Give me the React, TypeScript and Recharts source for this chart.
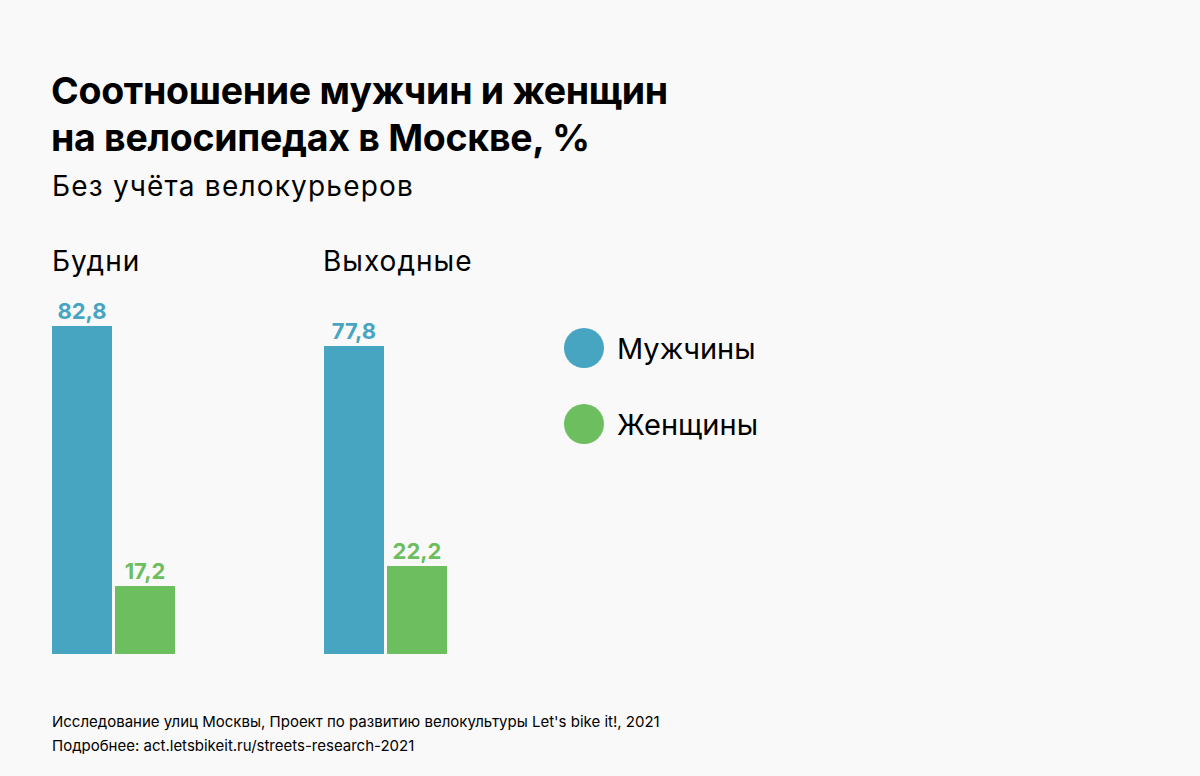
import React from 'react';
import { BarChart, Bar, XAxis, YAxis, LabelList } from 'recharts';

const categories = ['Будни', 'Выходные'];
const men = [82.8, 77.8];
const women = [17.2, 22.2];
const seriesNames = ['Мужчины', 'Женщины'];

const BLUE = '#47a5c2';
const GREEN = '#6dbe5f';
const FONT = 'Inter, "Open Sans", sans-serif';

const data = categories.map((c, i) => ({ name: c, men: men[i], women: women[i] }));

const fmt = (v: number) => v.toFixed(1).replace('.', ',');

const App: React.FC = () => {
  return (
    <div
      style={{
        position: 'absolute',
        left: 0,
        top: 0,
        width: 1200,
        height: 776,
        background: '#f9f9f9',
        overflow: 'hidden',
        fontFamily: FONT,
        color: '#000',
      }}
    >
      <div style={{ position: 'absolute', left: 51, top: 67, fontSize: 37.5, fontWeight: 700, lineHeight: '47px', letterSpacing: -0.3 }}>
        Соотношение мужчин и женщин
        <br />
        на велосипедах в Москве, %
      </div>
      <div style={{ position: 'absolute', left: 52, top: 169, fontSize: 28, lineHeight: '34px', letterSpacing: 1.2 }}>
        Без учёта велокурьеров
      </div>

      {categories.map((c, i) => (
        <div key={c} style={{ position: 'absolute', left: i === 0 ? 52 : 323, top: 244, fontSize: 28, lineHeight: '34px', letterSpacing: 1 }}>
          {c}
        </div>
      ))}

      <div style={{ position: 'absolute', left: -23, top: 258 }}>
        <BarChart width={544} height={396} data={data} margin={{ top: 0, right: 0, bottom: 0, left: 0 }} barSize={60} barGap={3}>
          <XAxis dataKey="name" hide />
          <YAxis hide domain={[0, 100]} />
          <Bar dataKey="men" fill={BLUE} isAnimationActive={false}>
            <LabelList dataKey="men" position="top" offset={7} formatter={fmt} fill={BLUE} fontSize={22} fontWeight={700} fontFamily={FONT} />
          </Bar>
          <Bar dataKey="women" fill={GREEN} isAnimationActive={false}>
            <LabelList dataKey="women" position="top" offset={7} formatter={fmt} fill={GREEN} fontSize={22} fontWeight={700} fontFamily={FONT} />
          </Bar>
        </BarChart>
      </div>

      {seriesNames.map((s, i) => (
        <div key={s} style={{ position: 'absolute', left: 564, top: 328 + i * 76, height: 40, display: 'flex', alignItems: 'center' }}>
          <div style={{ width: 40, height: 40, borderRadius: 20, background: i === 0 ? BLUE : GREEN }} />
          <div style={{ marginLeft: 13, fontSize: 29 }}>{s}</div>
        </div>
      ))}

      <div style={{ position: 'absolute', left: 52, top: 710, fontSize: 15, lineHeight: '24px' }}>
        Исследование улиц Москвы, Проект по развитию велокультуры Let's bike it!, 2021
        <br />
        Подробнее: act.letsbikeit.ru/streets-research-2021
      </div>
    </div>
  );
};

export default App;
